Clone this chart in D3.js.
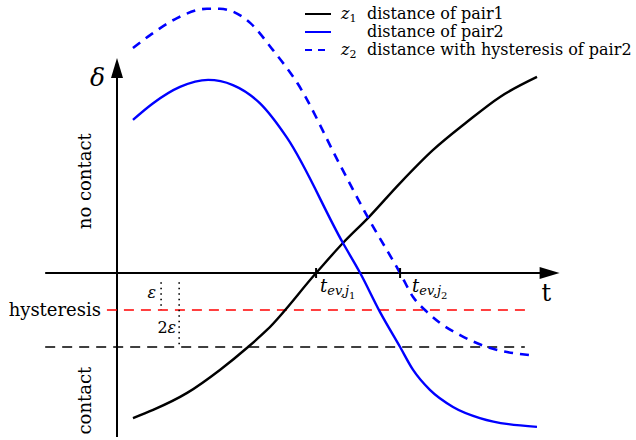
<!DOCTYPE html>
<html>
<head>
<meta charset="utf-8">
<script src="https://cdn.jsdelivr.net/npm/d3@7"></script>
<style>
  html, body { margin: 0; padding: 0; background: #fff; }
  svg { display: block; }
</style>
</head>
<body>
<svg id="chart" width="636" height="440"></svg>
<script>
// time samples and distance values (δ) of each curve
const tPair1 = [0.38, 0.86, 1.67, 2.45, 3.12, 3.57, 4.74, 5.38, 5.98, 6.74, 7.52, 8.33, 9.12, 10.0];
const dPair1 = [-3.92, -3.70, -3.24, -2.62, -2.0, -1.54, 0.0, 0.81, 1.49, 2.43, 3.32, 4.08, 4.76, 5.30];

const tPair2 = [0.38, 0.86, 1.5, 2.17, 2.76, 3.40, 4.05, 5.38, 5.79, 6.26, 6.74, 7.05, 7.45, 8.0, 8.64, 10.0];
const dPair2 = [4.14, 4.59, 5.03, 5.22, 5.08, 4.59, 3.65, 0.81, 0.0, -1.05, -2.0, -2.62, -3.16, -3.62, -3.92, -4.16];

const tPair2Hyst = [0.38, 0.79, 1.43, 2.14, 2.45, 3.17, 3.71, 4.29, 5.31, 5.98, 6.74, 7.05, 7.38, 7.69, 8.17, 8.81, 9.83];
const dPair2Hyst = [6.08, 6.43, 6.89, 7.14, 7.14, 6.76, 6.03, 5.14, 2.92, 1.49, 0.0, -0.65, -1.05, -1.35, -1.68, -2.0, -2.22];

// event times where the curves cross zero
const eventTimes = [4.74, 6.74];
const eventLabels = [["t", "ev,j", "1"], ["t", "ev,j", "2"]];

// threshold levels
const epsilon = 1;
const hysteresisLevel = -epsilon;
const contactLevel = -2 * epsilon;

// legend rows
const legendSymbols = ["z1", "", "z2"];
const legendTexts = ["distance of pair1", "distance of pair2", "distance with hysteresis of pair2"];
const legendColors = ["#000", "#0000ff", "#0000ff"];
const legendDashes = [null, null, "7,6"];

// axis extents in data units
const tAxisRange = [-1.71, 10.3];
const dAxisRange = [-4.43, 5.81];

const FONT = "DejaVu Serif";

const svg = d3.select("#chart");
const x = d3.scaleLinear().domain([0, 10]).range([117, 537]);
const y = d3.scaleLinear().domain([0, 1]).range([273, 236]);

const line = d3.line().x(d => x(d[0])).y(d => y(d[1])).curve(d3.curveMonotoneX);

const label = (sel) => sel.append("text").style("font-family", FONT).attr("fill", "#000");

// horizontal (time) axis
svg.append("line")
  .attr("x1", x(tAxisRange[0])).attr("x2", x(tAxisRange[1]) - 4)
  .attr("y1", y(0)).attr("y2", y(0))
  .attr("stroke", "#000").attr("stroke-width", 2);
svg.append("path")
  .attr("d", `M${x(tAxisRange[1]) + 10},${y(0)} l-20,-6 l0,12 z`)
  .attr("fill", "#000");

// vertical (δ) axis
svg.append("line")
  .attr("x1", x(0)).attr("x2", x(0))
  .attr("y1", y(dAxisRange[0])).attr("y2", y(dAxisRange[1]) + 10)
  .attr("stroke", "#000").attr("stroke-width", 2);
svg.append("path")
  .attr("d", `M${x(0)},${y(dAxisRange[1])} l-6,20 l12,0 z`)
  .attr("fill", "#000");

// threshold lines
svg.append("line")
  .attr("x1", x(-0.24)).attr("x2", x(9.83))
  .attr("y1", y(hysteresisLevel)).attr("y2", y(hysteresisLevel))
  .attr("stroke", "#ff0000").attr("stroke-width", 1.6)
  .attr("stroke-dasharray", "10,7");
svg.append("line")
  .attr("x1", x(tAxisRange[0])).attr("x2", x(9.71))
  .attr("y1", y(contactLevel)).attr("y2", y(contactLevel))
  .attr("stroke", "#000").attr("stroke-width", 1.6)
  .attr("stroke-dasharray", "10,7");

// dotted ε and 2ε markers
svg.append("line")
  .attr("x1", x(1.05)).attr("x2", x(1.05))
  .attr("y1", y(-0.25)).attr("y2", y(hysteresisLevel))
  .attr("stroke", "#000").attr("stroke-width", 1.6)
  .attr("stroke-dasharray", "1.5,4");
svg.append("line")
  .attr("x1", x(1.48)).attr("x2", x(1.48))
  .attr("y1", y(-0.25)).attr("y2", y(contactLevel))
  .attr("stroke", "#000").attr("stroke-width", 1.6)
  .attr("stroke-dasharray", "1.5,4");

label(svg).attr("x", x(1.05) - 5).attr("y", y(-0.5) + 6)
  .attr("text-anchor", "end").attr("font-size", 16).attr("font-style", "italic").text("ε");
label(svg).attr("x", x(1.48) - 3).attr("y", y(-1.45) + 6)
  .attr("text-anchor", "end").attr("font-size", 16)
  .call(t => { t.append("tspan").text("2"); t.append("tspan").attr("font-style", "italic").text("ε"); });

// curves
svg.append("path").datum(d3.zip(tPair1, dPair1)).attr("d", line)
  .attr("fill", "none").attr("stroke", "#000").attr("stroke-width", 2.4);
svg.append("path").datum(d3.zip(tPair2, dPair2)).attr("d", line)
  .attr("fill", "none").attr("stroke", "#0000ff").attr("stroke-width", 2.4);
svg.append("path").datum(d3.zip(tPair2Hyst, dPair2Hyst)).attr("d", line)
  .attr("fill", "none").attr("stroke", "#0000ff").attr("stroke-width", 2.6)
  .attr("stroke-dasharray", "9,7");

// event ticks and labels
const eventLabelOffsets = [4, 12];
eventTimes.forEach((et, i) => {
  svg.append("line")
    .attr("x1", x(et)).attr("x2", x(et))
    .attr("y1", y(0) - 5).attr("y2", y(0) + 5)
    .attr("stroke", "#000").attr("stroke-width", 2);
  const lab = eventLabels[i];
  const t = label(svg).attr("x", x(et) + eventLabelOffsets[i]).attr("y", y(0) + 19)
    .attr("font-size", 18).attr("font-style", "italic");
  t.append("tspan").text(lab[0]);
  t.append("tspan").attr("font-size", 13).attr("dy", 3).text(lab[1]);
  t.append("tspan").attr("font-size", 10).attr("dy", 4).attr("font-style", "normal").text(lab[2]);
});

// axis names
label(svg).attr("x", x(10.3) - 8).attr("y", y(0) + 28)
  .attr("font-size", 24).text("t");
label(svg).attr("x", x(0) - 12).attr("y", y(dAxisRange[1]) + 28)
  .attr("text-anchor", "end").attr("font-size", 25).attr("font-style", "italic").text("δ");

label(svg).attr("x", 101).attr("y", y(hysteresisLevel) + 6)
  .attr("text-anchor", "end").attr("font-size", 18).text("hysteresis");

label(svg).attr("transform", `translate(91,${y(2.48)}) rotate(-90)`)
  .attr("text-anchor", "middle").attr("font-size", 18).text("no contact");
label(svg).attr("transform", `translate(91,${y(-3.45)}) rotate(-90)`)
  .attr("text-anchor", "middle").attr("font-size", 18).text("contact");

// legend
const legend = svg.append("g").attr("transform", "translate(305,14)");
legendTexts.forEach((txt, i) => {
  const g = legend.append("g").attr("transform", `translate(0,${i * 18})`);
  g.append("line").attr("x1", 0).attr("x2", 26).attr("y1", 0).attr("y2", 0)
    .attr("stroke", legendColors[i]).attr("stroke-width", 2)
    .attr("stroke-dasharray", legendDashes[i]);
  if (legendSymbols[i]) {
    const s = label(g).attr("x", 36).attr("y", 5).attr("font-size", 16).attr("font-style", "italic");
    s.append("tspan").text(legendSymbols[i][0]);
    s.append("tspan").attr("font-size", 11).attr("dy", 3).attr("font-style", "normal").text(legendSymbols[i][1]);
  }
  label(g).attr("x", 62).attr("y", 5).attr("font-size", 16).text(txt);
});
</script>
</body>
</html>
